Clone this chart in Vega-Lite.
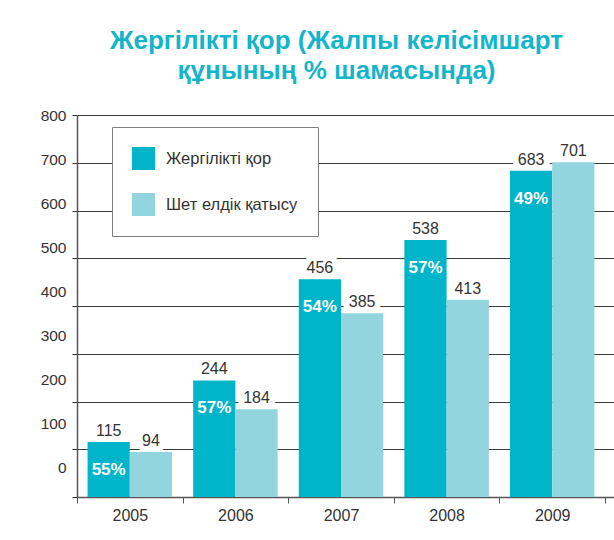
{
  "$schema": "https://vega.github.io/schema/vega-lite/v6.json",
  "width": 537,
  "height": 382,
  "autosize": "none",
  "padding": {"left": 77, "top": 115, "right": 0, "bottom": 43},
  "background": "white",
  "config": {"view": {"stroke": null}, "font": "Liberation Sans"},
  "title": {
    "text": ["Жергілікті қор (Жалпы келісімшарт", "құнының % шамасында)"],
    "fontSize": 26,
    "fontWeight": "bold",
    "color": "#13b5c9",
    "font": "Liberation Sans",
    "lineHeight": 30,
    "anchor": "middle",
    "dx": -9,
    "offset": 24
  },
  "data": {
    "values": [
      {"year": "2005", "series": "Жергілікті қор", "value": 115, "pct": "55%"},
      {"year": "2005", "series": "Шет елдік қатысу", "value": 94, "pct": null},
      {"year": "2006", "series": "Жергілікті қор", "value": 244, "pct": "57%"},
      {"year": "2006", "series": "Шет елдік қатысу", "value": 184, "pct": null},
      {"year": "2007", "series": "Жергілікті қор", "value": 456, "pct": "54%"},
      {"year": "2007", "series": "Шет елдік қатысу", "value": 385, "pct": null},
      {"year": "2008", "series": "Жергілікті қор", "value": 538, "pct": "57%"},
      {"year": "2008", "series": "Шет елдік қатысу", "value": 413, "pct": null},
      {"year": "2009", "series": "Жергілікті қор", "value": 683, "pct": "49%"},
      {"year": "2009", "series": "Шет елдік қатысу", "value": 701, "pct": null}
    ]
  },
  "encoding": {
    "x": {
      "field": "year",
      "type": "nominal",
      "scale": {"paddingInner": 0, "paddingOuter": 0.0426, "align": 0},
      "axis": {
        "title": null,
        "labelAngle": 0,
        "tickBand": "extent",
        "tickSize": 6,
        "tickColor": "#555",
        "domainColor": "#555",
        "domainWidth": 1.5,
        "labelFontSize": 16,
        "labelColor": "#333",
        "labelPadding": 4
      }
    },
    "xOffset": {
      "field": "series",
      "type": "nominal",
      "scale": {"domain": ["Жергілікті қор", "Шет елдік қатысу"], "paddingInner": 0, "paddingOuter": 0.25}
    },
    "y": {
      "field": "value",
      "type": "quantitative",
      "scale": {"domain": [0, 800], "nice": false},
      "axis": {
        "title": null,
        "values": [0, 100, 200, 300, 400, 500, 600, 700, 800],
        "grid": true,
        "gridColor": "#3a3a3a",
        "gridWidth": 1,
        "domainColor": "#555",
        "domainWidth": 1.5,
        "tickColor": "#333",
        "tickSize": 5,
        "labelPadding": 6,
        "labelFontSize": 15.5,
        "labelColor": "#333",
        "labelOffset": {"expr": "(datum.value - 800) * 0.0363"}
      }
    }
  },
  "layer": [
    {
      "mark": {"type": "text", "fontSize": 16, "dy": -11, "baseline": "middle", "fill": "white", "stroke": "white", "strokeWidth": 12, "strokeJoin": "round"},
      "encoding": {"text": {"field": "value", "type": "quantitative"}}
    },
    {
      "mark": {"type": "bar"},
      "encoding": {
        "color": {
          "field": "series",
          "type": "nominal",
          "scale": {"domain": ["Жергілікті қор", "Шет елдік қатысу"], "range": ["#00b5c9", "#92d5df"]},
          "legend": {
            "orient": "none",
            "legendX": 35,
            "legendY": 12,
            "title": null,
            "direction": "vertical",
            "fillColor": "white",
            "strokeColor": "#808080",
            "padding": 20,
            "symbolType": "square",
            "symbolSize": 529,
            "symbolStrokeWidth": 0,
            "symbolOpacity": 1,
            "rowPadding": 23,
            "labelFontSize": 16.5,
            "labelColor": "#333",
            "labelOffset": 11
          }
        }
      }
    },
    {
      "mark": {"type": "text", "fontSize": 16, "dy": -11, "baseline": "middle", "fill": "#333"},
      "encoding": {"text": {"field": "value", "type": "quantitative"}}
    },
    {
      "transform": [{"filter": "datum.pct != null"}],
      "mark": {"type": "text", "fontSize": 17, "fontWeight": "bold", "dy": 28, "baseline": "middle", "fill": "white"},
      "encoding": {"text": {"field": "pct", "type": "nominal"}}
    }
  ]
}
